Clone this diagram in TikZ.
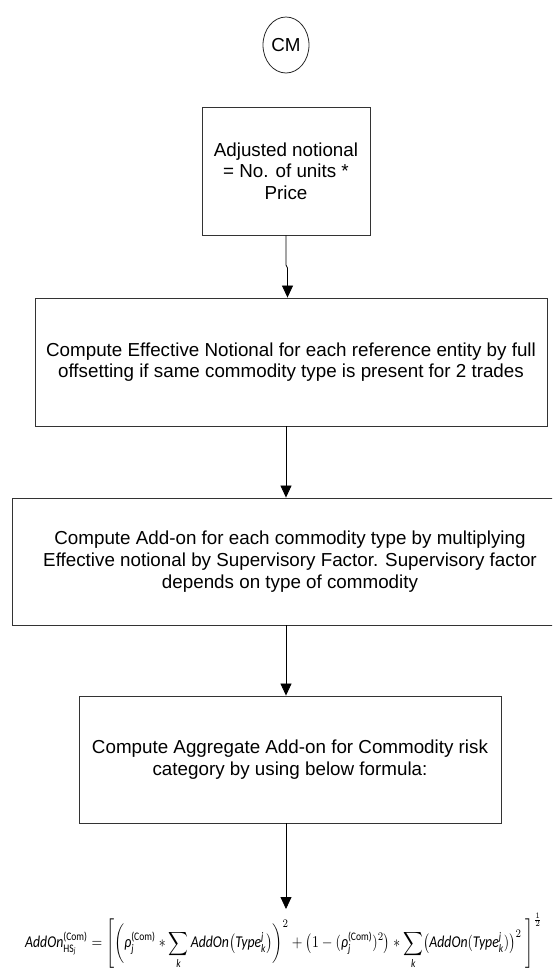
\documentclass[tikz,border=0pt]{standalone}
\usepackage{fontspec}
\setmainfont{Liberation Sans}
\newfontfamily\carlito{Carlito}
\usepackage{amsmath}
\usepackage{graphicx}
\usetikzlibrary{arrows.meta,shapes.geometric}
\newcommand{\ci}[1]{\text{\carlito\itshape #1}}
\newcommand{\cu}[1]{\text{\carlito #1}}
\begin{document}
\begin{tikzpicture}[x=1pt,y=-1pt,
  txt/.style={font=\fontsize{18.8}{21.7}\selectfont, align=center},
  box/.style={draw=black!80, line width=0.9pt, txt, inner sep=0pt},
  conn/.style={draw=black, line width=0.8pt, -{Triangle[length=12pt,width=11pt]}}]
\useasboundingbox (0,0) rectangle (552,970);
\clip (0,0) rectangle (552,970);

\node[draw=black!85, line width=0.8pt, ellipse, minimum width=46pt, minimum height=56pt, txt, inner sep=0pt] (cm) at (286,45) {CM};

\node[box, minimum width=168pt, minimum height=128pt] (b1) at (286,171)
  {Adjusted notional\\= No. of units *\\Price};
\node[box, minimum width=512pt, minimum height=128pt] (b2) at (291,362)
  {Compute Effective Notional for each reference entity by full\\offsetting if same commodity type is present for 2 trades};
\node[box, minimum width=556pt, minimum height=127pt] (b3) at (290,561.5)
  {Compute Add-on for each commodity type by multiplying\\Effective notional by Supervisory Factor. Supervisory factor\\depends on type of commodity};
\node[box, minimum width=422pt, minimum height=127pt] (b4) at (290,759.5)
  {Compute Aggregate Add-on for Commodity risk\\category by using below formula:};

\node[anchor=north west, inner sep=0pt] (f) at (25,913) {\resizebox*{517pt}{56pt}{$\displaystyle
  \ci{AddOn}^{\cu{(Com)}}_{\cu{HS}_{\ci{j}}} = \Biggl[ \biggl( \ci{ρ}_{\ci{j}}^{\cu{(Com)}} * \sum_{\ci{k}} \ci{AddOn}\bigl(\ci{Type}^{\ci{j}}_{\ci{k}}\bigr)\biggr)^{2} + \bigl(1-(\ci{ρ}_{\ci{j}}^{\cu{(Com)}})^{2}\bigr) * \sum_{\ci{k}} \bigl(\ci{AddOn}(\ci{Type}^{\ci{j}}_{\ci{k}})\bigr)^{2} \;\Biggr]^{\frac{1}{2}}$}};

\coordinate (j1) at (286,265);
\coordinate (j2) at (287.5,268);
\coordinate (ftip) at (286,909);
\draw[conn] (b1.south) -- (j1) -- (j2) -- (j2 |- b2.north);
\draw[conn] (b2.south -| b1.south) -- (b3.north -| b1.south);
\draw[conn] (b3.south -| b1.south) -- (b4.north -| b1.south);
\draw[conn] (b4.south -| b1.south) -- (ftip);
\end{tikzpicture}
\end{document}
